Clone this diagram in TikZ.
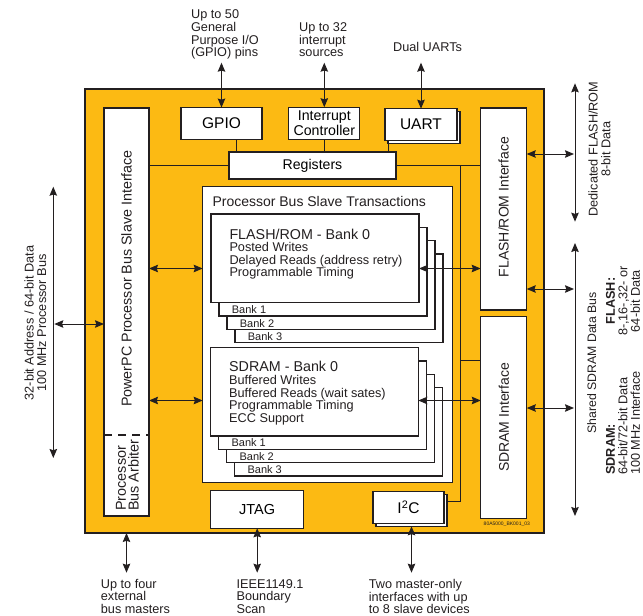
\documentclass[tikz,border=0pt]{standalone}
\usepackage{fontspec}
\setmainfont{Liberation Sans}
\usetikzlibrary{arrows.meta}

\definecolor{chiporange}{RGB}{252,186,19}
\definecolor{ink}{RGB}{35,31,32}

\tikzset{
  blk/.style = {draw = ink, fill = white, line width = 1.2pt, inner sep = 0pt, outer sep = 0pt},
  lnk/.style = {draw = ink, line width = 1pt},
  dbl/.style = {lnk, {Stealth[length = 9pt, width = 7.5pt, inset = 1.2pt]}-{Stealth[length = 9pt, width = 7.5pt, inset = 1.2pt]}},
  txt/.style = {inner sep = 0pt, text = ink},
  lbl/.style = {txt, align = left, font = \fontsize{12.7}{12.6}\selectfont},
}

\begin{document}
\begin{tikzpicture}[x = 1pt, y = -1pt]
\useasboundingbox (0, 0) rectangle (643, 616);

% chip
\node[blk, fill = chiporange, line width = 1.4pt, minimum width = 459pt, minimum height = 444pt] (chip) at (314.5, 311) {};

% processor bus slave interface + arbiter
\node[blk, minimum width = 45pt, minimum height = 408pt] (ppc) at (126.5, 312) {};
\coordinate (arb) at (0, 435);
\draw[draw = ink, line width = 1.2pt, dash pattern = on 8pt off 6pt] (ppc.west |- arb) -- (ppc.east |- arb);
\node[txt, rotate = 90, font = \fontsize{14.3}{15}\selectfont] (ppctxt) at (126.5, 278.5) {PowerPC Processor Bus Slave Interface};
\node[txt, rotate = 90, anchor = west, align = left, font = \fontsize{14.4}{12.8}\selectfont] (arbtxt) at (127.3, 511) {Processor\\Bus Arbiter};

% peripherals on top
\node[blk, minimum width = 81pt, minimum height = 32pt, font = \fontsize{15.5}{16}\selectfont] (gpio) at (221.5, 123.5) {GPIO};
\node[blk, minimum width = 71pt, minimum height = 32pt, align = center, font = \fontsize{14.2}{12.7}\selectfont] (intc) at (324.3, 123.2) {Interrupt\\Controller};
\node[blk, minimum width = 72pt, minimum height = 32pt] (uartbk) at (424, 127.7) {};
\node[blk, minimum width = 72pt, minimum height = 32pt, font = \fontsize{15.5}{16}\selectfont] (uart) at (421, 124.7) {UART};
\node[blk, minimum width = 167pt, minimum height = 27pt, font = \fontsize{14.1}{15}\selectfont] (regs) at (312.5, 165.5) {Registers};

% interfaces on the right
\node[blk, minimum width = 46pt, minimum height = 202pt] (flif) at (503.7, 209) {};
\node[txt, rotate = 90, font = \fontsize{14}{15}\selectfont] (fliftxt) at (503.7, 207) {FLASH/ROM Interface};
\node[blk, minimum width = 46pt, minimum height = 202pt] (sdif) at (503.8, 417.5) {};
\node[txt, rotate = 90, font = \fontsize{14}{15}\selectfont] (sdiftxt) at (503.8, 417.5) {SDRAM Interface};

% slave transactions
\node[blk, minimum width = 250pt, minimum height = 296pt] (pbst) at (327.7, 334.4) {};
\node[txt, anchor = base west, font = \fontsize{14}{15}\selectfont] (pbsttxt) at (212.3, 206.7) {Processor Bus Slave Transactions};

\node[blk, minimum width = 208pt, minimum height = 88.7pt] (fb3) at (339, 298.35) {};
\node[blk, minimum width = 208pt, minimum height = 88.7pt] (fb2) at (331, 285) {};
\node[blk, minimum width = 208pt, minimum height = 88.7pt] (fb1) at (323, 271.7) {};
\node[blk, minimum width = 208pt, minimum height = 88.7pt] (fb0) at (315, 258.35) {};
\node[txt, anchor = base west, font = \fontsize{11}{12}\selectfont] (fb1txt) at ([xshift = 12.7pt, yshift = 2.3pt]fb1.south west) {Bank 1};
\node[txt, anchor = base west, font = \fontsize{11}{12}\selectfont] (fb2txt) at ([xshift = 12.7pt, yshift = 2.3pt]fb2.south west) {Bank 2};
\node[txt, anchor = base west, font = \fontsize{11}{12}\selectfont] (fb3txt) at ([xshift = 12.7pt, yshift = 2.3pt]fb3.south west) {Bank 3};
\node[txt, anchor = base west, font = \fontsize{14.3}{15}\selectfont] (fbhead) at (229.3, 239) {FLASH/ROM - Bank 0};
\node[txt, anchor = north west, align = left, font = \fontsize{12.7}{12.5}\selectfont] (fblist) at (229.3, 242.2) {Posted Writes\\Delayed Reads (address retry)\\Programmable Timing};

\node[blk, minimum width = 207.6pt, minimum height = 88.3pt] (sb3) at (338.5, 431.75) {};
\node[blk, minimum width = 207.6pt, minimum height = 88.3pt] (sb2) at (330.5, 418.45) {};
\node[blk, minimum width = 207.6pt, minimum height = 88.3pt] (sb1) at (322.5, 405.15) {};
\node[blk, minimum width = 207.6pt, minimum height = 88.3pt] (sb0) at (314.5, 391.85) {};
\node[txt, anchor = base west, font = \fontsize{11}{12}\selectfont] (sb1txt) at ([xshift = 12.7pt, yshift = 2.5pt]sb1.south west) {Bank 1};
\node[txt, anchor = base west, font = \fontsize{11}{12}\selectfont] (sb2txt) at ([xshift = 12.7pt, yshift = 2.5pt]sb2.south west) {Bank 2};
\node[txt, anchor = base west, font = \fontsize{11}{12}\selectfont] (sb3txt) at ([xshift = 12.7pt, yshift = 2.5pt]sb3.south west) {Bank 3};
\node[txt, anchor = base west, font = \fontsize{14.3}{15}\selectfont] (sbhead) at (229, 371.7) {SDRAM - Bank 0};
\node[txt, anchor = north west, align = left, font = \fontsize{12.7}{12.8}\selectfont] (sblist) at (229, 374.8) {Buffered Writes\\Buffered Reads (wait sates)\\Programmable Timing\\ECC Support};

% JTAG and I2C
\node[blk, minimum width = 93pt, minimum height = 37.6pt, font = \fontsize{14.5}{15}\selectfont] (jtag) at (257.2, 509.5) {JTAG};
\node[blk, minimum width = 71pt, minimum height = 31.6pt] (i2cbk) at (411.5, 510.5) {};
\node[blk, minimum width = 71pt, minimum height = 31.6pt, font = \fontsize{15.5}{16}\selectfont] (i2c) at (408.5, 507.5) {I\textsuperscript{2}C};
\node[txt, font = \fontsize{5}{6}\selectfont] (code) at (506.8, 524) {80A5000\_BK001\_03};

% internal bus lines
\draw[lnk] (ppc.east |- regs.west) -- (regs.west);
\draw[lnk] (regs.east) -- (regs.east -| flif.west);
\draw[lnk] ([xshift = 15pt]gpio.south) -- ([xshift = 15pt]gpio.south |- regs.north);
\draw[lnk] (intc.south) -- (intc.south |- regs.north);
\draw[lnk] ([xshift = -33pt]uart.south) -- ([xshift = -33pt]uart.south |- regs.north);
\coordinate (tap) at (460, 165.5);
\coordinate (sdtap) at (460, 360);
\draw[lnk] (tap) |- ([xshift = 3pt, yshift = 6pt]i2c.east);
\draw[lnk] (sdtap) -- (sdtap -| sdif.west);

% transaction arrows
\coordinate (yf) at (0, 268.5);
\coordinate (ys) at (0, 400.5);
\draw[dbl] (ppc.east |- yf) -- (pbst.west |- yf);
\draw[dbl] (fb0.east |- yf) -- (flif.west |- yf);
\draw[dbl] (ppc.east |- ys) -- (pbst.west |- ys);
\draw[dbl] (sb0.east |- ys) -- (sdif.west |- ys);

% top pins
\coordinate (ytop) at (0, 62.7);
\draw[dbl] (gpio.north |- ytop) -- (gpio.north);
\draw[dbl] (intc.north |- ytop) -- (intc.north);
\draw[dbl] (uart.north |- ytop) -- (uart.north);
\node[lbl, anchor = north west] (gpiolbl) at (190.9, 9.9) {Up to 50\\General\\Purpose I/O\\(GPIO) pins};
\node[lbl, anchor = north west] (intlbl) at (298.9, 22.6) {Up to 32\\interrupt\\sources};
\node[lbl, anchor = north west] (uartlbl) at (392.9, 41.6) {Dual UARTs};

% bottom pins
\coordinate (ybot) at (0, 572.7);
\draw[dbl] (ppc.south |- chip.south) -- (ppc.south |- ybot);
\draw[dbl] (jtag.south) -- (jtag.south |- ybot);
\draw[dbl] ([xshift = 3pt, yshift = -3pt]i2c.south) -- ([xshift = 3pt]i2c.south |- ybot);
\node[lbl, anchor = north west] (mstlbl) at (100.7, 579) {Up to four\\external\\bus masters};
\node[lbl, anchor = north west] (jtaglbl) at (236.4, 579) {IEEE1149.1\\Boundary\\Scan};
\node[lbl, anchor = north west] (i2clbl) at (368.6, 579) {Two master-only\\interfaces with up\\to 8 slave devices};

% processor bus
\coordinate (pbtop) at (53.3, 186.7);
\coordinate (pbbot) at (53.3, 458);
\coordinate (yp) at (0, 324);
\draw[dbl] (pbtop) -- (pbbot);
\draw[dbl] ([xshift = 1pt]pbtop |- yp) -- (ppc.west |- yp);
\node[lbl, rotate = 90, align = center] (pblbl) at (35.4, 323) {32-bit Address / 64-bit Data\\100 MHz Processor Bus};

% flash and sdram buses
\coordinate (dtop) at (575, 83.3);
\coordinate (dbot) at (575, 221.7);
\coordinate (stop) at (575, 243);
\coordinate (sbot) at (575, 516);
\coordinate (yd) at (0, 154);
\coordinate (yfs) at (0, 289);
\coordinate (yss) at (0, 408);
\draw[dbl] (dtop) -- (dbot);
\draw[dbl] (stop) -- (sbot);
\draw[dbl] (flif.east |- yd) -- ([xshift = -1pt]dtop |- yd);
\draw[dbl] (flif.east |- yfs) -- ([xshift = -1pt]stop |- yfs);
\draw[dbl] (sdif.east |- yss) -- ([xshift = -1pt]stop |- yss);
\node[lbl, rotate = 90, align = center] (dedlbl) at (599.5, 149) {Dedicated FLASH/ROM\\8-bit Data};
\node[lbl, rotate = 90, font = \fontsize{12.3}{12.6}\selectfont] (shlbl) at (591.7, 363) {Shared SDRAM Data Bus};
\node[lbl, rotate = 90, align = center] (flbl) at (623, 301) {\textbf{FLASH:}\\8-,16-,32- or\\64-bit Data};
\node[lbl, rotate = 90, anchor = west, align = left] (slbl) at (623, 475) {\textbf{SDRAM:}\\64-bit/72-bit Data\\100 MHz Interface};
\end{tikzpicture}
\end{document}
